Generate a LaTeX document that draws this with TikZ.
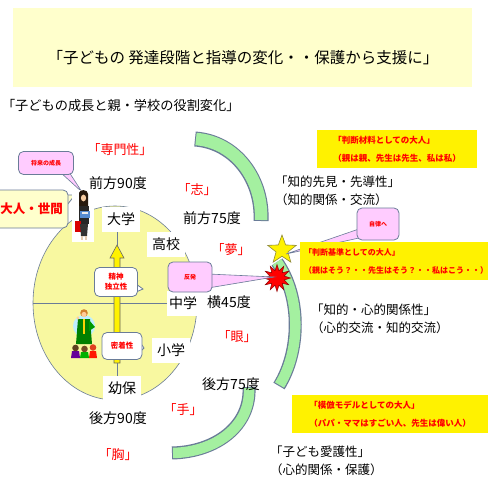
\documentclass[tikz,border=0pt]{standalone}
\usepackage{fontspec}
\setmainfont{Noto Sans CJK JP}
\usetikzlibrary{shapes.geometric,shapes.symbols,calc}
\definecolor{titlebg}{HTML}{FFFFCC}
\definecolor{circfill}{HTML}{F8F8A0}
\definecolor{edge}{HTML}{6A7C98}
\definecolor{arcgreen}{HTML}{A4F0A0}
\definecolor{pinkbox}{HTML}{FFCCFF}
\definecolor{skyblue}{HTML}{BFEFFF}
\begin{document}
\begin{tikzpicture}[x=1pt,y=-1pt,
  every node/.style={inner sep=0pt,outer sep=0pt},
  deg/.style={font=\fontsize{14}{16}\selectfont},
  redlab/.style={text=red,font=\fontsize{13}{15}\selectfont},
  stagebox/.style={fill=white,font=\fontsize{14}{16}\selectfont,minimum width=38pt,minimum height=25pt},
  roletext/.style={font=\fontsize{12.5}{18}\selectfont,align=left,anchor=west},
  notebox/.style={fill=yellow,text=red,font=\bfseries\fontsize{8.5}{18}\selectfont,align=left,anchor=west,inner xsep=4pt},
  callbox/.style={fill=pinkbox,draw=edge,line width=0.8pt,rounded corners=5pt,text=red,font=\bfseries\fontsize{6}{7}\selectfont},
  tagbox/.style={fill=white,draw=edge,line width=0.8pt,rounded corners=5pt,text=red,font=\bfseries\fontsize{7.5}{10}\selectfont,align=center},
  bandout/.style={draw=edge,line width=15pt},
  bandin/.style={draw=arcgreen,line width=12.5pt}]
\useasboundingbox (0,0) rectangle (488,479);
\fill[white] (0,0) rectangle (488,479);

% headings
\fill[titlebg] (13,8) rectangle (472,87);
\node[font=\fontsize{15.5}{18}\selectfont] (title) at (243,58) {「子どもの 発達段階と指導の変化・・保護から支援に」};
\node[font=\fontsize{13.2}{16}\selectfont,anchor=west] (subtitle) at (2,105) {「子どもの成長と親・学校の役割変化」};

% green bands
\draw[bandout] (195,139) .. controls (236,142) and (263,180) .. (261,221);
\draw[bandin]  (196,139) .. controls (236,142) and (263,180) .. (261,220);
\draw[bandout,line width=13pt] (277,262) .. controls (302,298) and (300,352) .. (279,386);
\draw[bandin,line width=10.5pt] (277,262) .. controls (302,298) and (300,352) .. (279.5,385);
\draw[bandout,line width=13pt] (249,387) .. controls (251,426) and (216,452) .. (172,453);
\draw[bandin,line width=10.5pt] (249,388) .. controls (251,426) and (216,452) .. (173,453);

% growth circle with axes
\draw[edge,fill=circfill,line width=0.6pt] (115,303) ellipse [x radius=82,y radius=97];
\coordinate (axL) at (33,303);
\coordinate (axT) at (117,232);
\coordinate (axB) at (117,376);
\draw[edge,line width=0.8pt] (axL) -- (168,303);
\draw[edge,line width=0.8pt] (axT) -- (axB);
\draw[fill=yellow,draw=gray!80!black,line width=0.6pt]
  (114,363) -- (114,258) -- (110,258) -- (117,245) -- (124,258) -- (120,258) -- (120,363) -- cycle;

% school stages
\node[stagebox] (univ) at (121,219) {大学};
\node[stagebox] (high) at (166,244) {高校};
\node[stagebox,minimum width=33pt] (junior) at (183,303) {中学};
\node[stagebox] (elem) at (171,350) {小学};
\node[stagebox] (kinder) at (122,388) {幼保};

% angle labels
\node[deg] (d90f) at (118,183) {前方90度};
\node[deg] (d75f) at (212,218) {前方75度};
\node[deg] (d45) at (229,302) {横45度};
\node[deg] (d75b) at (231,384) {後方75度};
\node[deg] (d90b) at (118,418) {後方90度};

% key words
\node[redlab] (senmon) at (120,150) {「専門性」};
\node[redlab] (kokoro) at (197,190) {「志」};
\node[redlab] (yume) at (231,250) {「夢」};
\node[redlab] (me) at (237,337) {「眼」};
\node[redlab] (te) at (183,410) {「手」};
\node[redlab] (mune) at (118,455) {「胸」};

% star and burst
\node[starburst,starburst points=12,starburst point height=6pt,minimum width=27pt,minimum height=27pt,
      fill=red,draw=red!55!black,line width=0.5pt,random starburst=0] (burst) at (277,278) {};
\node[star,star points=5,star point ratio=2.4,minimum size=30pt,fill=yellow,draw=olive!60!gray,line width=0.6pt] (star) at (282,250) {};

% pointers to star and burst
\coordinate (starpt) at (286,254);
\coordinate (burstpt) at (274,277);
\fill[pinkbox,draw=edge,line width=0.6pt] (359,229) -- (starpt) -- (359,238) -- cycle;
\fill[pinkbox,draw=edge,line width=0.6pt] (208,274) -- (burstpt) -- (208,288) -- cycle;
\node[callbox,minimum width=42pt,minimum height=32pt] (jiritsu) at (378,224) {自律へ};
\node[callbox,minimum width=44pt,minimum height=30pt] (hanpatsu) at (190,277) {反発};

% outcome boxes
\node[notebox,minimum width=160pt,minimum height=38pt] (note1) at (317,149)
  {「判断材料としての大人」\\（親は親、先生は先生、私は私）};
\node[notebox,minimum width=188pt,minimum height=38pt,font=\bfseries\fontsize{8}{18}\selectfont] (note2) at (300,261)
  {「判断基準としての大人」\\（親はそう？・・先生はそう？・・私はこう・・）};
\node[notebox,minimum width=196pt,minimum height=38pt] (note3) at (292,414)
  {「模倣モデルとしての大人」\\（パパ・ママはすごい人、先生は偉い人）};

% relationship texts
\node[roletext] (rel1) at (275,191) {「知的先見・先導性」\\（知的関係・交流）};
\node[roletext] (rel2) at (311,319) {「知的・心的関係性」\\（心的交流・知的交流）};
\node[roletext] (rel3) at (270,461) {「子ども愛護性」\\（心的関係・保護）};

% adult world callout
\coordinate (adultTip) at (75,195);
\fill[titlebg,draw=edge,line width=0.8pt] (64,195) -- (adultTip) -- (67,205) -- cycle;
\node[fill=titlebg,draw=edge,line width=0.8pt,rounded corners=5pt,minimum width=80pt,minimum height=38pt] (adult) at (28,209) {};
\node[text=red,font=\bfseries\fontsize{12.5}{15}\selectfont,anchor=west] (adulttext) at (0.5,209) {大人・世間};

% future growth callout
\coordinate (futTip) at (82,192);
\fill[pinkbox,draw=edge,line width=0.6pt] (60,172) -- (futTip) -- (69,172) -- cycle;
\node[callbox,minimum width=55pt,minimum height=23pt] (future) at (46,163) {将来の成長};

% student picture
\fill[white] (72,190) rectangle (94,242);
\fill[black!80!brown] (79,193) .. controls (79,189) and (88,189) .. (88,194) -- (88,210) -- (79,210) -- cycle;
\fill[brown!30!orange!40!white] (83.5,198) ellipse [x radius=2.6,y radius=3.4];
\fill[black!85] (79,206) rectangle (88.5,224);
\fill[cyan!50!blue!70] (80,211) rectangle (90,218);
\fill[white!85!gray] (82,212) rectangle (88,214);
\fill[red!85!black] (75,221) rectangle (80.5,232);
\fill[black!80] (80,224) -- (88,224) -- (87,236) -- (81,236) -- cycle;
\draw[brown!40!white,line width=1.3pt] (82,236) -- (82,240) (86,236) -- (86,240);

% teacher and pupils picture
\fill[skyblue] (84,326) circle (11);
\fill[green!50!black] (78,319) -- (90,319) -- (92,344) -- (76,344) -- cycle;
\fill[green!60!black] (89,320) -- (95,327) -- (89,331) -- cycle;
\fill[yellow!70!orange] (83,319) rectangle (85,334);
\fill[brown!70!orange] (84,313) circle (3.8);
\fill[orange!40!white] (84,314.5) circle (2.6);
\fill[orange!40!white] (78,318) circle (1.6);
\fill[violet!80!blue] (71,358) -- (72,351) -- (79,351) -- (80,358) -- cycle;
\fill[green!70!black] (80,358) -- (81,352) -- (88,352) -- (89,358) -- cycle;
\fill[red!80!orange] (89,358) -- (90,351) -- (96,351) -- (97,358) -- cycle;
\fill[brown!50!black] (75.5,348) circle (3.3);
\fill[brown!60!black] (84.5,349) circle (3.3);
\fill[brown!50!red] (93,347.5) circle (3.3);

% stage property tags
\fill[white,draw=edge,line width=0.8pt] (136,284) -- (143,289) -- (136,292) -- cycle;
\node[tagbox,minimum width=43pt,minimum height=29pt] (indep) at (116,282) {精神\\独立性};
\fill[white,draw=edge,line width=0.8pt] (140,342) -- (144,348) -- (140,352) -- cycle;
\node[tagbox,minimum width=40pt,minimum height=27pt] (close) at (122,346) {密着性};
\end{tikzpicture}
\end{document}
